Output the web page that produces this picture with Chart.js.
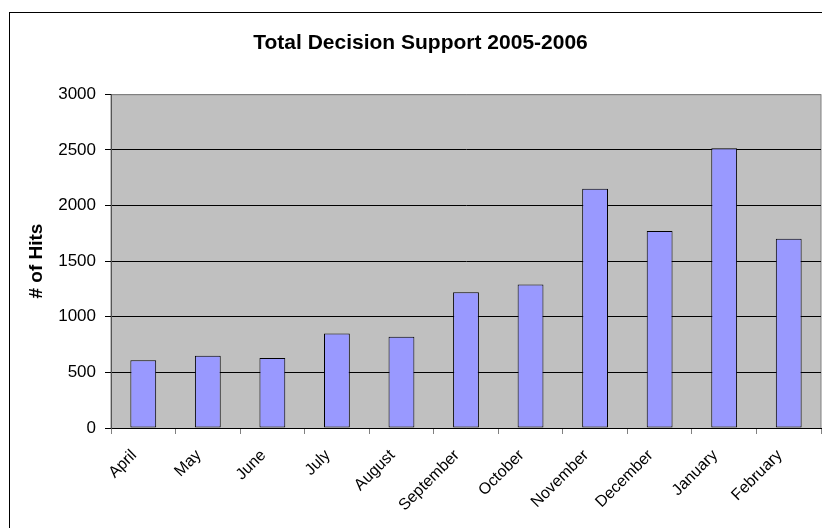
<!DOCTYPE html>
<html>
<head>
<meta charset="utf-8">
<script src="https://cdn.jsdelivr.net/npm/chart.js@4"></script>
<style>
  body { margin: 0; background: #fff; }
  #wrap { width: 822px; height: 528px; }
</style>
</head>
<body>
<div id="wrap"><canvas id="chart-1" width="822" height="528"></canvas></div>
<script>
/************************ chart data *********************************/
const months = ["April", "May", "June", "July", "August", "September", "October", "November", "December", "January", "February"];
const hits = [610, 650, 630, 850, 820, 1220, 1290, 2150, 1770, 2515, 1700];
const yTicks = [0, 500, 1000, 1500, 2000, 2500, 3000];

const chartTitle = "Total Decision Support 2005-2006";
const yTitle = "# of Hits";

// gray plot background + outer frame, drawn before the scales
const backdrop = {
  id: "backdrop",
  beforeDraw(chart) {
    const { ctx, chartArea } = chart;
    ctx.save();
    ctx.fillStyle = "#C0C0C0";
    ctx.fillRect(chartArea.left, chartArea.top, chartArea.right - chartArea.left, chartArea.bottom - chartArea.top);
    ctx.strokeStyle = "#808080";
    ctx.lineWidth = 1;
    ctx.strokeRect(chartArea.left, chartArea.top + 0.5, chartArea.right - chartArea.left, chartArea.bottom - chartArea.top);
    ctx.strokeStyle = "#000";
    ctx.strokeRect(9.5, 12.5, 900, 600);
    ctx.restore();
  }
};

const ctxA = document.getElementById("chart-1").getContext("2d");
const myChart1 = new Chart(ctxA, {
  type: "bar",
  data: {
    labels: months,
    datasets: [
      {
        label: yTitle,
        data: hits,
        backgroundColor: "#9999FF",
        borderColor: "#000",
        borderWidth: 1,
        borderSkipped: false,
        categoryPercentage: 1,
        barPercentage: 0.4,
      },
    ],
  },
  options: {
    responsive: false,
    animation: false,
    layout: {
      padding: { left: 20, right: 1, top: 0, bottom: 0 },
    },
    plugins: {
      legend: { display: false },
      tooltip: { enabled: false },
      title: {
        display: true,
        text: chartTitle,
        color: "#000",
        font: { family: "Liberation Sans, Arial, sans-serif", size: 21, weight: "bold", lineHeight: 1.2 },
        padding: { top: 31, bottom: 38 },
      },
    },
    scales: {
      x: {
        offset: true,
        grid: {
          offset: true,
          drawOnChartArea: false,
          color: "#808080",
          tickLength: 6,
        },
        border: { color: "#000", width: 1 },
        ticks: {
          color: "#000",
          maxRotation: 45,
          minRotation: 45,
          autoSkip: false,
          padding: 12,
          labelOffset: -9,
          font: { family: "Liberation Sans, Arial, sans-serif", size: 16 },
        },
        afterFit(scale) {
          scale.height = 100;
        },
      },
      y: {
        min: 0,
        max: 3000,
        afterBuildTicks(scale) {
          scale.ticks = yTicks.map(v => ({ value: v }));
        },
        grid: {
          color: (c) => (c.tick && c.tick.value === 3000 ? "#808080" : "#000"),
          tickColor: "#000",
          tickLength: 6,
        },
        border: { color: "#555", width: 1 },
        ticks: {
          color: "#000",
          padding: 9,
          callback: (v) => String(v),
          font: { family: "Liberation Sans, Arial, sans-serif", size: 17 },
        },
        title: {
          display: true,
          text: yTitle,
          color: "#000",
          padding: { top: 5, bottom: 0 },
          font: { family: "Liberation Sans, Arial, sans-serif", size: 19, weight: "bold", lineHeight: 1.2 },
        },
        afterFit(scale) {
          scale.width = 91;
        },
      },
    },
  },
  plugins: [backdrop],
});
</script>
</body>
</html>
